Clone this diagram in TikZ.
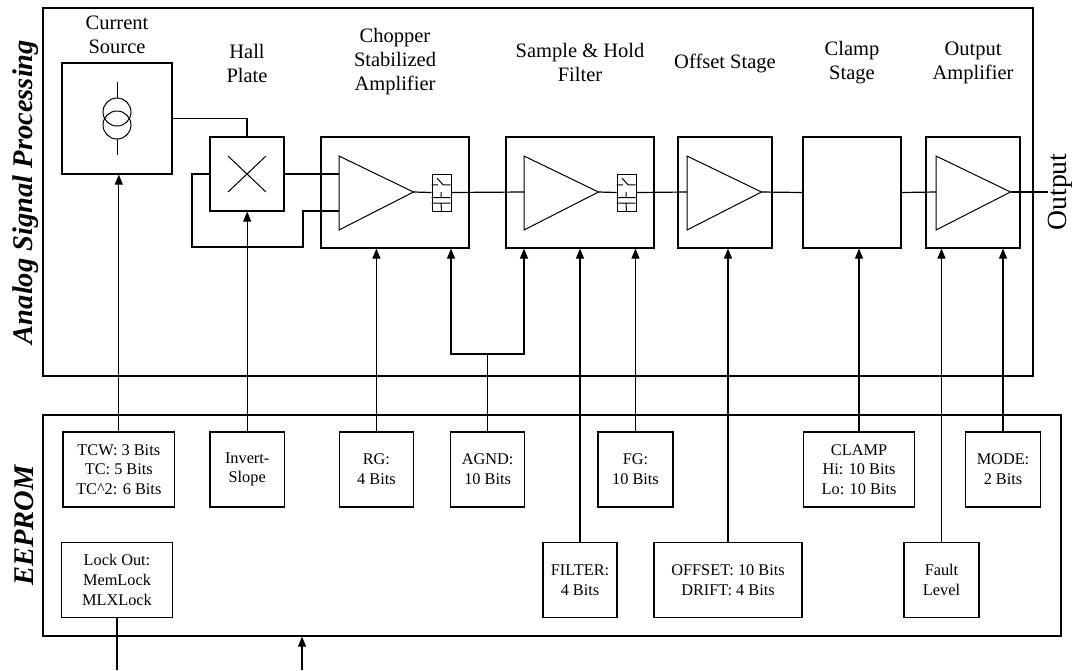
\documentclass[tikz,border=0pt]{standalone}
\usepackage{fontspec}
\setmainfont{Liberation Serif}
\usetikzlibrary{arrows.meta}
\newcommand\labfont{\fontsize{20.5}{24}\selectfont}
\newcommand\bitfont{\fontsize{16.3}{19.7}\selectfont}
\newcommand\sidefont{\fontsize{28.5}{30}\selectfont\bfseries\itshape}
\newcommand\shswitch[1]{
    \draw[line width=1pt] ([shift={(0pt,-11.4pt)}]#1.north west) -- ++(6.6pt,0pt)
        ([shift={(5.6pt,-4.7pt)}]#1.north west) -- ++(6pt,-6.7pt) -- ++(7.4pt,0pt)
        ([shift={(9.5pt,-18.5pt)}]#1.north west) -- ++(0pt,-5.5pt)
        ([shift={(0pt,-24pt)}]#1.north west) -- ++(19pt,0pt)
        ([shift={(0pt,-29.7pt)}]#1.north west) -- ++(19pt,0pt)
        ([shift={(9.5pt,-29.7pt)}]#1.north west) -- (#1.south);
}

\begin{document}
\begin{tikzpicture}[x=1pt,y=-1pt,line width=1.2pt,
    blk/.style={draw,inner sep=0pt,minimum height=111pt},
    bits/.style={draw,align=center,inner sep=0pt,minimum height=75pt,font=\bitfont},
    arr/.style={-{Triangle[length=10pt,width=8pt]}}]
    \useasboundingbox (0,0) rectangle (1078,670);
    \node[draw,minimum width=990pt,minimum height=368pt] (asp) at (538,192) {};
    \node[draw,minimum width=1018pt,minimum height=221pt] (eeprom) at (552,525.5) {};
    \node[rotate=90,anchor=base,font=\sidefont] at (32,192) {Analog Signal Processing};
    \node[rotate=90,anchor=base,font=\sidefont] at (33,525.5) {EEPROM};

    \node[blk,minimum width=110pt] (cur) at (117,118.5) {};
    \node[draw,minimum width=74pt,minimum height=74pt] (hall) at (247,174) {};
    \foreach \nm/\cx/\w in {chop/395/148,sh/580/148,off/725/94,clamp/852/98,oamp/973/94}
        \node[blk,minimum width=\w pt] (\nm) at (\cx,192.5) {};
    \foreach \nm/\xl in {chop/339,sh/524,off/687,oamp/936}
    {
        \draw[line width=1pt] (\xl,156) -- (\xl,230) -- (\xl+74.5,192) coordinate (\nm-out) -- cycle;
        \coordinate (\nm-in) at (\xl,192);
    }
    \coordinate (chop-in1) at (339,174);
    \coordinate (chop-in2) at (339,211);
    \node[draw,line width=1pt,minimum width=19pt,minimum height=37pt] (chopsw) at (441.5,192.5) {};
    \node[draw,line width=1pt,minimum width=19pt,minimum height=37pt] (shsw) at (626.5,192.5) {};
    \shswitch{chopsw}
    \shswitch{shsw}

    \draw[line width=1pt] (117,82) -- (117,98) (117,139) -- (117,155);
    \draw[line width=1pt] (117,112) circle (14pt) (117,125) circle (14pt);
    \draw[line width=1pt] (228,156) -- (266,192) (228,192) -- (266,156);

    \node[align=center,font=\labfont] at (117,35) {Current\\Source};
    \node[align=center,font=\labfont] at (247,63) {Hall\\Plate};
    \node[align=center,font=\labfont] at (395,62) {Chopper\\Stabilized\\Amplifier};
    \node[align=center,font=\labfont] at (580,62.5) {Sample \& Hold\\Filter};
    \node[align=center,font=\labfont] at (725,63) {Offset Stage};
    \node[align=center,font=\labfont] at (852,63) {Clamp\\Stage};
    \node[align=center,font=\labfont] at (973,63) {Output\\Amplifier};
    \node[rotate=90,anchor=base,font=\fontsize{27.7}{30}\selectfont] at (1066.5,192) {Output};

    \draw (cur.east) -| (hall.north);
    \draw (hall.east) -- (chop-in1);
    \draw (hall.west) -| (192,247) -| (303,211) -- (chop-in2);
    \draw (chop-out) -- (chopsw.west);
    \draw (chopsw.east) -- (sh-in);
    \draw (sh-out) -- (shsw.west);
    \draw (shsw.east) -- (off-in);
    \draw (off-out) -- (clamp.west);
    \draw (clamp.east) -- (oamp-in);
    \coordinate (outend) at (1048,192);
    \draw (oamp-out) -- (outend);

    \node[bits,minimum width=111.6pt] (tcw) at (118.8,469.5) {TCW: 3 Bits\\TC: 5 Bits\\TC\textasciicircum 2: 6 Bits};
    \node[bits,minimum width=74.4pt] (inv) at (247.2,469.5) {Invert-\\Slope};
    \node[bits,minimum width=74.4pt] (rg) at (376.4,469.5) {RG:\\4 Bits};
    \node[bits,minimum width=74.4pt] (agnd) at (487.6,469.5) {AGND:\\10 Bits};
    \node[bits,minimum width=75pt] (fg) at (635.5,469.5) {FG:\\10 Bits};
    \node[bits,minimum width=111pt] (clampbits) at (859,469.5) {CLAMP\\Hi: 10 Bits\\Lo: 10 Bits};
    \node[bits,minimum width=74.6pt] (mode) at (1003,469.5) {MODE:\\2 Bits};
    \node[bits,minimum width=111.6pt] (lock) at (117,580) {Lock Out:\\MemLock\\MLXLock};
    \node[bits,minimum width=74pt] (filter) at (580,580) {FILTER:\\4 Bits};
    \node[bits,minimum width=148pt] (offset) at (728,580) {OFFSET: 10 Bits\\DRIFT: 4 Bits};
    \node[bits,minimum width=75pt] (fault) at (941.5,580) {Fault\\Level};

    \draw[arr] (tcw.north) -- (tcw.north |- cur.south);
    \draw[arr] (inv.north) -- (inv.north |- hall.south);
    \draw[arr] (rg.north) -- (rg.north |- chop.south);
    \coordinate (agj) at (agnd.north |- 0,354);
    \draw (agnd.north) -- (agj);
    \draw[arr] (agj) -| ([xshift=56pt]chop.south);
    \draw[arr] (agj) -| ([xshift=-56pt]sh.south);
    \draw[arr] (filter.north) -- (filter.north |- sh.south);
    \draw[arr] (fg.north) -- (fg.north |- sh.south);
    \draw[arr] (offset.north) -- (offset.north |- off.south);
    \draw[arr] (clampbits.north) -- (clampbits.north |- clamp.south);
    \draw[arr] (fault.north) -- (fault.north |- oamp.south);
    \draw[arr] (mode.north) -- (mode.north |- oamp.south);
    \draw (lock.south) -- (lock.south |- 0,670);
    \coordinate (pin) at (302,670);
    \draw[arr] (pin) -- (pin |- eeprom.south);
\end{tikzpicture}
\end{document}
